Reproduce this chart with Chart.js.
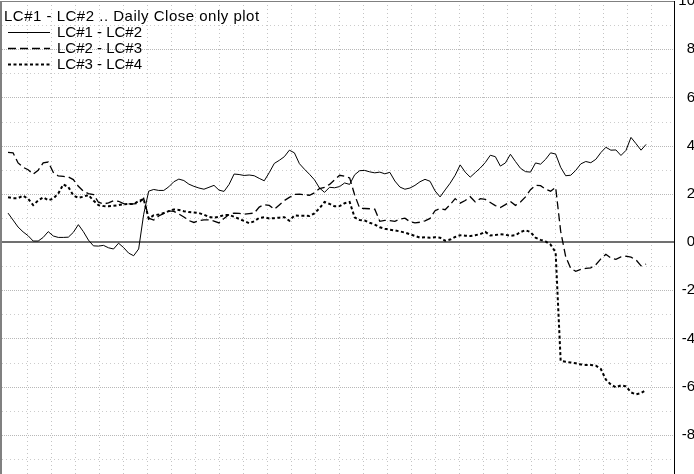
<!DOCTYPE html>
<html>
<head>
<meta charset="utf-8">
<script src="https://cdn.jsdelivr.net/npm/chart.js@4.4.1/dist/chart.umd.min.js"></script>
<style>
  html, body { margin: 0; padding: 0; background: #fff; overflow: hidden; }
  body { width: 694px; height: 474px; position: relative; }
  #chart { position: absolute; left: 0; top: -20px; }
</style>
</head>
<body>
<canvas id="chart" width="695" height="520"></canvas>
<script>
// Daily close spreads, one value per trading day
const titleText = "LC#1 - LC#2 .. Daily Close only plot";
const seriesNames = ["LC#1 - LC#2", "LC#2 - LC#3", "LC#3 - LC#4"];
const yTicks = [10, 8, 6, 4, 2, 0, -2, -4, -6, -8];

const lc12 = [1.20,0.91,0.62,0.42,0.26,0.04,0.04,0.19,0.43,0.25,
  0.19,0.19,0.20,0.40,0.72,0.43,0.08,-0.16,-0.17,-0.14,
  -0.24,-0.29,-0.05,-0.23,-0.46,-0.57,-0.29,1.15,2.11,2.18,
  2.14,2.14,2.29,2.50,2.61,2.55,2.40,2.31,2.24,2.19,
  2.27,2.35,2.15,2.10,2.39,2.82,2.80,2.76,2.78,2.75,
  2.64,2.54,2.88,3.26,3.39,3.54,3.81,3.70,3.25,3.02,
  2.81,2.58,2.24,2.06,2.27,2.25,2.30,2.45,2.39,2.79,
  2.96,2.97,2.91,2.87,2.90,2.83,2.89,2.53,2.28,2.19,
  2.24,2.35,2.50,2.60,2.52,2.12,1.87,2.16,2.44,2.77,
  3.20,2.90,2.69,2.88,3.07,3.30,3.60,3.54,3.15,3.28,
  3.64,3.34,3.06,2.92,2.90,3.28,3.23,3.43,3.70,3.65,
  3.10,2.75,2.77,2.97,3.24,3.34,3.29,3.43,3.71,3.93,
  3.81,3.82,3.59,3.80,4.34,4.08,3.81,4.05];

const lc23 = [3.72,3.70,3.28,3.10,3.00,2.81,2.98,3.28,3.32,2.89,
  2.74,2.72,2.70,2.59,2.31,2.11,2.01,1.97,1.65,1.58,
  1.62,1.71,1.69,1.59,1.58,1.58,1.60,1.81,0.99,0.91,
  1.08,1.19,1.29,1.27,1.16,1.04,0.89,0.81,0.89,0.92,
  0.92,0.87,0.79,0.98,1.15,1.20,1.19,1.15,1.18,1.20,
  1.45,1.55,1.52,1.36,1.54,1.72,1.85,1.97,1.99,1.96,
  1.94,2.04,2.22,2.27,2.39,2.58,2.77,2.73,2.66,1.95,
  1.40,1.39,1.38,1.36,0.86,0.90,0.89,0.86,0.95,0.99,
  0.84,0.79,0.82,0.88,0.98,1.30,1.39,1.34,1.55,1.80,
  1.61,1.72,1.88,1.66,1.80,1.77,1.64,1.51,1.43,1.55,
  1.68,1.52,1.66,1.87,2.17,2.35,2.34,2.19,2.11,2.27,
  0.45,-0.61,-1.09,-1.22,-1.14,-1.09,-1.07,-0.94,-0.70,-0.51,
  -0.67,-0.72,-0.62,-0.59,-0.63,-0.74,-0.99,-0.92];

const lc34 = [1.86,1.82,1.82,1.92,1.79,1.53,1.72,1.85,1.73,1.80,
  2.01,2.39,2.28,1.93,1.83,1.88,1.95,1.72,1.53,1.49,
  1.48,1.50,1.53,1.57,1.58,1.57,1.70,1.78,0.97,1.11,
  1.14,1.20,1.28,1.35,1.33,1.28,1.24,1.22,1.20,1.13,
  1.04,1.01,1.05,1.12,1.12,1.05,0.96,0.87,0.78,0.86,
  1.00,1.03,0.98,0.99,1.01,1.03,0.88,1.10,1.09,1.09,
  1.08,1.19,1.40,1.66,1.58,1.48,1.49,1.61,1.66,1.02,
  0.91,0.89,0.80,0.72,0.61,0.55,0.51,0.48,0.44,0.39,
  0.32,0.25,0.18,0.20,0.18,0.20,0.18,0.05,0.10,0.21,
  0.28,0.26,0.25,0.28,0.33,0.42,0.27,0.29,0.32,0.30,
  0.26,0.28,0.41,0.49,0.41,0.18,0.09,0.02,-0.11,-0.43,
  -4.93,-4.97,-5.00,-5.03,-5.08,-5.10,-5.10,-5.13,-5.27,-5.71,
  -5.92,-6.03,-5.95,-5.99,-6.24,-6.32,-6.27,-6.14];

// day index for each close
const days = lc12.map((v, i) => i);

var FONT = "'Liberation Sans', Arial, sans-serif";
var lineStyles = [
  { width: 1, dash: [] },
  { width: 1.3, dash: [8, 4] },
  { width: 2, dash: [3, 2.5] },
];

// x range in day units, vertical grid every ~4.78 days
var xMin = -1.2, xMax = 132.56;
var vGridStart = 3.8, vGridStep = 4.777;

var overlayPlugin = {
  id: "overlay",
  beforeDatasetsDraw: function (chart) {
    var ctx = chart.ctx, a = chart.chartArea;
    var xs = chart.scales.x, ys = chart.scales.y;
    ctx.save();
    ctx.lineWidth = 1;
    // horizontal grid, every unit
    for (var v = -10; v <= 10; v++) {
      if (v === 0) continue;
      var py = Math.round(ys.getPixelForValue(v)) + 0.5;
      var even = v % 2 === 0;
      ctx.strokeStyle = even ? "#b8b8b8" : "#cccccc";
      ctx.setLineDash(even ? [1, 1] : [1, 3]);
      ctx.beginPath();
      ctx.moveTo(a.left, py);
      ctx.lineTo(a.right, py);
      ctx.stroke();
    }
    // vertical grid
    ctx.strokeStyle = "#c4c4c4";
    ctx.setLineDash([1, 3]);
    for (var g = vGridStart; g < xMax; g += vGridStep) {
      var px = Math.round(xs.getPixelForValue(g)) + 0.5;
      ctx.beginPath();
      ctx.moveTo(px, a.top);
      ctx.lineTo(px, a.bottom);
      ctx.stroke();
    }
    // zero line
    ctx.setLineDash([]);
    ctx.strokeStyle = "#707070";
    ctx.lineWidth = 2;
    var py0 = Math.round(ys.getPixelForValue(0));
    ctx.beginPath();
    ctx.moveTo(a.left, py0);
    ctx.lineTo(a.right, py0);
    ctx.stroke();
    ctx.restore();
  },
  afterDraw: function (chart) {
    var ctx = chart.ctx, a = chart.chartArea;
    ctx.save();
    // frame
    ctx.strokeStyle = "#808080";
    ctx.lineWidth = 2;
    ctx.beginPath();
    ctx.moveTo(a.left - 1, a.top);
    ctx.lineTo(a.left - 1, a.bottom);
    ctx.stroke();
    ctx.lineWidth = 1;
    ctx.beginPath();
    ctx.moveTo(a.left, a.top + 0.5);
    ctx.lineTo(a.right, a.top + 0.5);
    ctx.stroke();
    ctx.strokeStyle = "#000";
    ctx.beginPath();
    ctx.moveTo(a.right + 0.5, a.top);
    ctx.lineTo(a.right + 0.5, a.bottom);
    ctx.stroke();

    // title + legend inside the plot
    ctx.fillStyle = "#000";
    ctx.textBaseline = "middle";
    ctx.textAlign = "left";
    ctx.font = "15px " + FONT;
    ctx.letterSpacing = "0.5px";
    ctx.fillText(titleText, a.left + 2, a.top + 16);
    ctx.letterSpacing = "0px";
    chart.data.datasets.forEach(function (ds, i) {
      var cy = a.top + 31.5 + i * 16;
      ctx.strokeStyle = "#000";
      ctx.lineWidth = lineStyles[i].width;
      ctx.setLineDash(lineStyles[i].dash);
      ctx.beginPath();
      ctx.moveTo(a.left + 6, cy);
      ctx.lineTo(a.left + 48, cy);
      ctx.stroke();
      ctx.setLineDash([]);
      ctx.fillText(ds.label, a.left + 55, cy);
    });
    ctx.restore();
  },
};

var ctx = document.getElementById("chart").getContext("2d");
var spreadChart = new Chart(ctx, {
  type: "line",
  data: {
    labels: days,
    datasets: [lc12, lc23, lc34].map(function (vals, i) {
      return {
        label: seriesNames[i],
        data: vals,
        borderColor: "#000",
        borderWidth: lineStyles[i].width,
        borderDash: lineStyles[i].dash,
        pointRadius: 0,
        tension: 0,
        fill: false,
      };
    }),
  },
  options: {
    responsive: false,
    animation: false,
    layout: { padding: { left: 2, top: 21, bottom: 17, right: 0 } },
    plugins: {
      legend: { display: false },
      title: { display: false },
      tooltip: { enabled: false },
    },
    scales: {
      x: {
        type: "linear",
        min: xMin,
        max: xMax,
        display: false,
      },
      y: {
        position: "right",
        min: -10,
        max: 10,
        afterBuildTicks: function (scale) {
          scale.ticks = yTicks.map(function (v) { return { value: v }; });
        },
        afterFit: function (scale) {
          scale.width = 21;
        },
        grid: { display: false, drawTicks: false },
        border: { display: false },
        ticks: {
          padding: 0,
          crossAlign: "far",
          align: "center",
          color: "#000",
          font: { family: FONT, size: 15 },
          callback: function (v) { return String(v); },
        },
      },
    },
  },
  plugins: [overlayPlugin],
});
</script>
</body>
</html>
